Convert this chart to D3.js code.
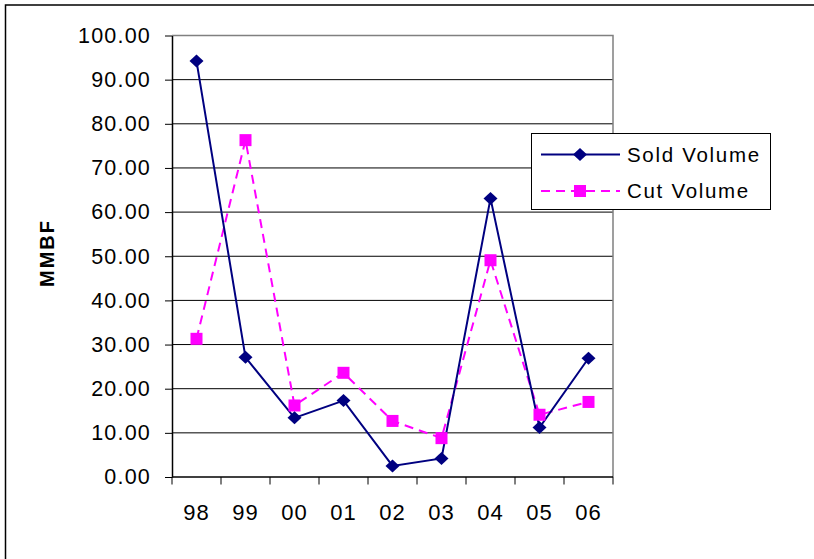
<!DOCTYPE html>
<html>
<head>
<meta charset="utf-8">
<script src="https://cdn.jsdelivr.net/npm/d3@7"></script>
<style>
  html, body { margin: 0; padding: 0; background: #fff; }
  svg { display: block; font-family: "Liberation Sans", Arial, sans-serif; }
</style>
</head>
<body>
<svg id="chart" width="814" height="559"></svg>
<script>
// Fiscal years (two-digit labels)
const years = ["98", "99", "00", "01", "02", "03", "04", "05", "06"];
// Sold volume, MMBF
const soldVolume = [94.2, 27.1, 13.4, 17.3, 2.5, 4.2, 63.1, 11.2, 26.9];
// Cut volume, MMBF
const cutVolume = [31.3, 76.3, 16.2, 23.6, 12.7, 8.8, 49.1, 14.1, 17.0];
// Y-axis tick values
const yTicks = [0, 10, 20, 30, 40, 50, 60, 70, 80, 90, 100];

const svg = d3.select("#chart");

// Outer chart frame
svg.append("rect")
  .attr("x", 5.5).attr("y", 5)
  .attr("width", 900).attr("height", 700)
  .attr("fill", "#fff").attr("stroke", "#000").attr("stroke-width", 1.5);

const plot = { left: 172, right: 613, top: 35.5, bottom: 477 };

const x = d3.scaleBand().domain(years).range([plot.left, plot.right]);
const y = d3.scaleLinear().domain([0, 100]).range([plot.bottom, plot.top]);

// Horizontal gridlines
svg.append("g")
  .selectAll("line")
  .data(yTicks.filter(d => d > 0 && d < 100))
  .join("line")
  .attr("x1", plot.left).attr("x2", plot.right)
  .attr("y1", d => y(d)).attr("y2", d => y(d))
  .attr("stroke", "#000").attr("stroke-width", 1);

// Plot-area frame (top and right in grey)
svg.append("path")
  .attr("d", `M${plot.left},${y(100)}H${plot.right}V${plot.bottom}`)
  .attr("fill", "none").attr("stroke", "#808080").attr("stroke-width", 1.5);

// Y axis
const yAxis = svg.append("g")
  .attr("transform", `translate(${plot.left},0)`)
  .call(d3.axisLeft(y).tickValues(yTicks).tickFormat(d3.format(".2f")).tickSizeInner(7).tickSizeOuter(0).tickPadding(14));
yAxis.select(".domain").attr("stroke", "#000").attr("stroke-width", 1.5);
yAxis.selectAll(".tick line").attr("stroke", "#000");
yAxis.selectAll(".tick text")
  .attr("font-size", 21.5).attr("letter-spacing", "1.2px")
  .attr("fill", "#000")
  .attr("font-family", "'Liberation Sans', Arial, sans-serif");

// X axis: ticks on category boundaries
const xAxisG = svg.append("g").attr("transform", `translate(0,${plot.bottom})`);
xAxisG.append("line")
  .attr("x1", plot.left).attr("x2", plot.right)
  .attr("stroke", "#000").attr("stroke-width", 1.5);
const boundaries = years.map(d => x(d)).concat([plot.right]);
xAxisG.selectAll("line.tk")
  .data(boundaries)
  .join("line").attr("class", "tk")
  .attr("x1", d => d).attr("x2", d => d)
  .attr("y1", 0).attr("y2", 7.5)
  .attr("stroke", "#000");
xAxisG.selectAll("text")
  .data(years)
  .join("text")
  .attr("x", d => x(d) + x.bandwidth() / 2)
  .attr("y", 42.5)
  .attr("text-anchor", "middle")
  .attr("font-size", 22).attr("letter-spacing", "1px")
  .text(d => d);

// Y-axis title
svg.append("text")
  .attr("transform", "translate(54,253) rotate(-90)")
  .attr("text-anchor", "middle")
  .attr("font-size", 20).attr("font-weight", "bold").attr("letter-spacing", "2px")
  .text("MMBF");

const cx = d => x(d) + x.bandwidth() / 2;
const soldColor = "#000080";
const cutColor = "#FF00FF";

// Cut Volume series (dashed magenta with squares)
const cutData = years.map((d, i) => ({ k: d, v: cutVolume[i] }));
svg.append("path")
  .datum(cutData)
  .attr("fill", "none").attr("stroke", cutColor).attr("stroke-width", 2)
  .attr("stroke-dasharray", "9,6")
  .attr("d", d3.line().x(d => cx(d.k)).y(d => y(d.v)));

// Sold Volume series (solid navy with diamonds)
const soldData = years.map((d, i) => ({ k: d, v: soldVolume[i] }));
svg.append("path")
  .datum(soldData)
  .attr("fill", "none").attr("stroke", soldColor).attr("stroke-width", 2)
  .attr("d", d3.line().x(d => cx(d.k)).y(d => y(d.v)));

const diamond = "M0,-6.5L7,0L0,6.5L-7,0Z";
svg.append("g").selectAll("rect")
  .data(cutData)
  .join("rect")
  .attr("x", d => cx(d.k) - 6).attr("y", d => y(d.v) - 6)
  .attr("width", 12).attr("height", 12)
  .attr("fill", cutColor);
svg.append("g").selectAll("path")
  .data(soldData)
  .join("path")
  .attr("transform", d => `translate(${cx(d.k)},${y(d.v)})`)
  .attr("d", diamond)
  .attr("fill", soldColor);

// Legend
const lg = svg.append("g");
lg.append("rect")
  .attr("x", 531.5).attr("y", 133.5).attr("width", 239).attr("height", 76)
  .attr("fill", "#fff").attr("stroke", "#000").attr("stroke-width", 1);
const legendItems = [
  { name: "Sold Volume", color: soldColor, dash: null, y: 154.5, marker: "diamond" },
  { name: "Cut Volume", color: cutColor, dash: "9,6", y: 191, marker: "square" }
];
legendItems.forEach(it => {
  lg.append("line")
    .attr("x1", 541).attr("x2", 620).attr("y1", it.y).attr("y2", it.y)
    .attr("stroke", it.color).attr("stroke-width", 2)
    .attr("stroke-dasharray", it.dash);
  if (it.marker === "diamond") {
    lg.append("path").attr("transform", `translate(580,${it.y})`).attr("d", diamond).attr("fill", it.color);
  } else {
    lg.append("rect").attr("x", 574).attr("y", it.y - 6).attr("width", 12).attr("height", 12).attr("fill", it.color);
  }
  lg.append("text")
    .attr("x", 627).attr("y", it.y + 7)
    .attr("font-size", 20.5).attr("letter-spacing", "1.7px")
    .text(it.name);
});
</script>
</body>
</html>
